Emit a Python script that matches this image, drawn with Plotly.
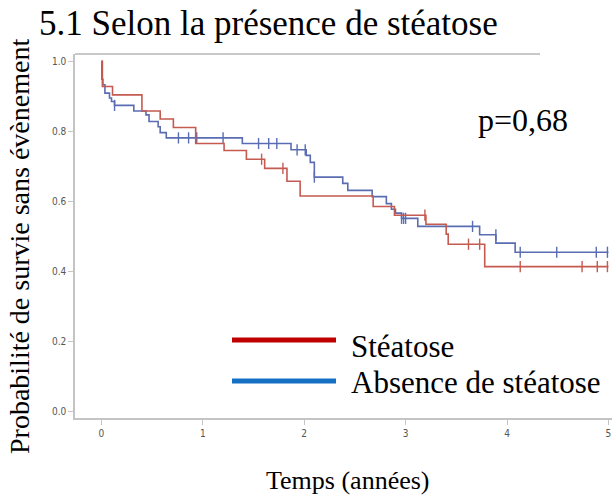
import plotly.graph_objects as go

# ---- data ----
steatose_t = [0.0, 0.01, 0.11, 0.40, 0.58, 0.71, 0.93, 1.21, 1.43, 1.61, 1.83, 1.96,
              2.68, 2.89, 3.20, 3.40, 3.42, 3.78, 5.0]
steatose_s = [1.0, 0.928, 0.904, 0.858, 0.835, 0.811, 0.765, 0.745, 0.720, 0.694, 0.657, 0.615,
              0.585, 0.560, 0.534, 0.506, 0.477, 0.413, 0.413]
steatose_cens_t = [1.58, 1.79, 3.19, 3.62, 3.73, 4.13, 4.74, 4.89, 4.99]
steatose_cens_s = [0.720, 0.694, 0.560, 0.477, 0.477, 0.413, 0.413, 0.413, 0.413]

absence_t = [0.0, 0.005, 0.015, 0.035, 0.08, 0.10, 0.13, 0.32, 0.44, 0.47, 0.56, 0.58, 0.64,
             1.39, 1.87, 2.02, 2.06, 2.10, 2.38, 2.43, 2.67, 2.81, 2.86, 2.90, 2.96, 3.12,
             3.73, 3.89, 4.08, 5.0]
absence_s = [1.0, 0.949, 0.933, 0.909, 0.895, 0.885, 0.874, 0.858, 0.847, 0.828, 0.813, 0.796, 0.781,
             0.765, 0.747, 0.731, 0.711, 0.669, 0.651, 0.631, 0.613, 0.593, 0.577, 0.566, 0.551, 0.528,
             0.504, 0.480, 0.454, 0.454]
absence_cens_t = [0.13, 0.76, 0.86, 0.94, 1.20, 1.55, 1.65, 1.73, 1.93, 2.01, 2.10,
                  2.96, 2.98, 3.00, 3.66, 3.89, 4.13, 4.49, 4.88, 4.99]
absence_cens_s = [0.874, 0.781, 0.781, 0.781, 0.781, 0.765, 0.765, 0.765, 0.747, 0.747, 0.669,
                  0.551, 0.551, 0.551, 0.528, 0.504, 0.454, 0.454, 0.454, 0.454]

x_ticks = [0, 1, 2, 3, 4, 5]
y_ticks = [0.0, 0.2, 0.4, 0.6, 0.8, 1.0]

title_text = "5.1 Selon la présence de stéatose"
x_title = "Temps (années)"
y_title = "Probabilité de survie sans évènement"
p_text = "p=0,68"
legend_names = ["Stéatose", "Absence de stéatose"]

RED_CURVE = "#C45A50"
BLUE_CURVE = "#5A6CB2"
RED_LEG = "#C00000"
BLUE_LEG = "#1570C4"
SERIF = "Liberation Serif, Times New Roman, serif"

fig = go.Figure()
fig.add_trace(go.Scatter(x=absence_t, y=absence_s, mode="lines", line=dict(color=BLUE_CURVE, width=1.6, shape="hv"),
                         name=legend_names[1], showlegend=False, hoverinfo="skip"))
fig.add_trace(go.Scatter(x=absence_cens_t, y=absence_cens_s, mode="markers",
                         marker=dict(symbol="line-ns", size=8, line=dict(color=BLUE_CURVE, width=1.4)),
                         showlegend=False, hoverinfo="skip"))
fig.add_trace(go.Scatter(x=steatose_t, y=steatose_s, mode="lines", line=dict(color=RED_CURVE, width=1.6, shape="hv"),
                         name=legend_names[0], showlegend=False, hoverinfo="skip"))
fig.add_trace(go.Scatter(x=steatose_cens_t, y=steatose_cens_s, mode="markers",
                         marker=dict(symbol="line-ns", size=8, line=dict(color=RED_CURVE, width=1.4)),
                         showlegend=False, hoverinfo="skip"))

W, H = 612, 498
PL, PT, PR, PB = 75, 54, 612, 418  # plot area in window pixels
PW, PH = PR - PL, PB - PT


def px(xp):
    return (xp - PL) / PW


def py(yp):
    return (PB - yp) / PH


AX = "#C4C4C4"
TICKFONT = dict(family="Liberation Sans Narrow, DejaVu Sans Condensed, Arial", size=10, color="#555555")
fig.update_layout(
    width=W, height=H,
    margin=dict(l=PL, r=W - PR, t=PT, b=H - PB),
    paper_bgcolor="white", plot_bgcolor="white", showlegend=False,
    xaxis=dict(range=[-0.26, 5.035], tickvals=x_ticks, ticktext=[str(v) for v in x_ticks],
               showgrid=False, zeroline=False, showline=True, linecolor=AX, linewidth=1.5,
               ticks="outside", ticklen=5, tickcolor=AX, tickwidth=1, tickfont=TICKFONT),
    yaxis=dict(range=[-0.02, 1.021], tickvals=y_ticks, ticktext=[f"{v:.1f}" for v in y_ticks],
               showgrid=False, zeroline=False, showline=True, linecolor=AX, linewidth=1.5,
               ticks="outside", ticklen=5, tickcolor=AX, tickwidth=1, tickfont=TICKFONT),
    font=dict(family=SERIF, color="black"),
)

shapes = [
    dict(type="line", xref="paper", yref="paper", x0=0, x1=px(540), y0=1, y1=1,
         line=dict(color="#C8C8C8", width=2)),
    dict(type="line", xref="paper", yref="paper", x0=px(232), x1=px(336), y0=py(340), y1=py(340),
         line=dict(color=RED_LEG, width=5)),
    dict(type="line", xref="paper", yref="paper", x0=px(232), x1=px(336), y0=py(381), y1=py(381),
         line=dict(color=BLUE_LEG, width=5)),
]
fig.update_layout(shapes=shapes)

ann = [
    dict(text=title_text, x=px(37), y=py(23), xanchor="left", yanchor="middle", font=dict(size=35)),
    dict(text=y_title, x=px(19), y=py(247), xanchor="center", yanchor="middle", textangle=-90, font=dict(size=28)),
    dict(text=x_title, x=px(348), y=py(480), xanchor="center", yanchor="middle", font=dict(size=26)),
    dict(text=p_text, x=px(476), y=py(120), xanchor="left", yanchor="middle", font=dict(size=32)),
    dict(text=legend_names[0], x=px(349), y=py(346), xanchor="left", yanchor="middle", font=dict(size=31)),
    dict(text=legend_names[1], x=px(349), y=py(382), xanchor="left", yanchor="middle", font=dict(size=31)),
]
for a in ann:
    a.update(xref="paper", yref="paper", showarrow=False)
fig.update_layout(annotations=ann)

fig.write_html("out.html",
               config={"displayModeBar": False},
               post_script="document.body.style.margin='0';"
                           "document.documentElement.style.overflow='hidden';"
                           "document.body.style.overflow='hidden';")
